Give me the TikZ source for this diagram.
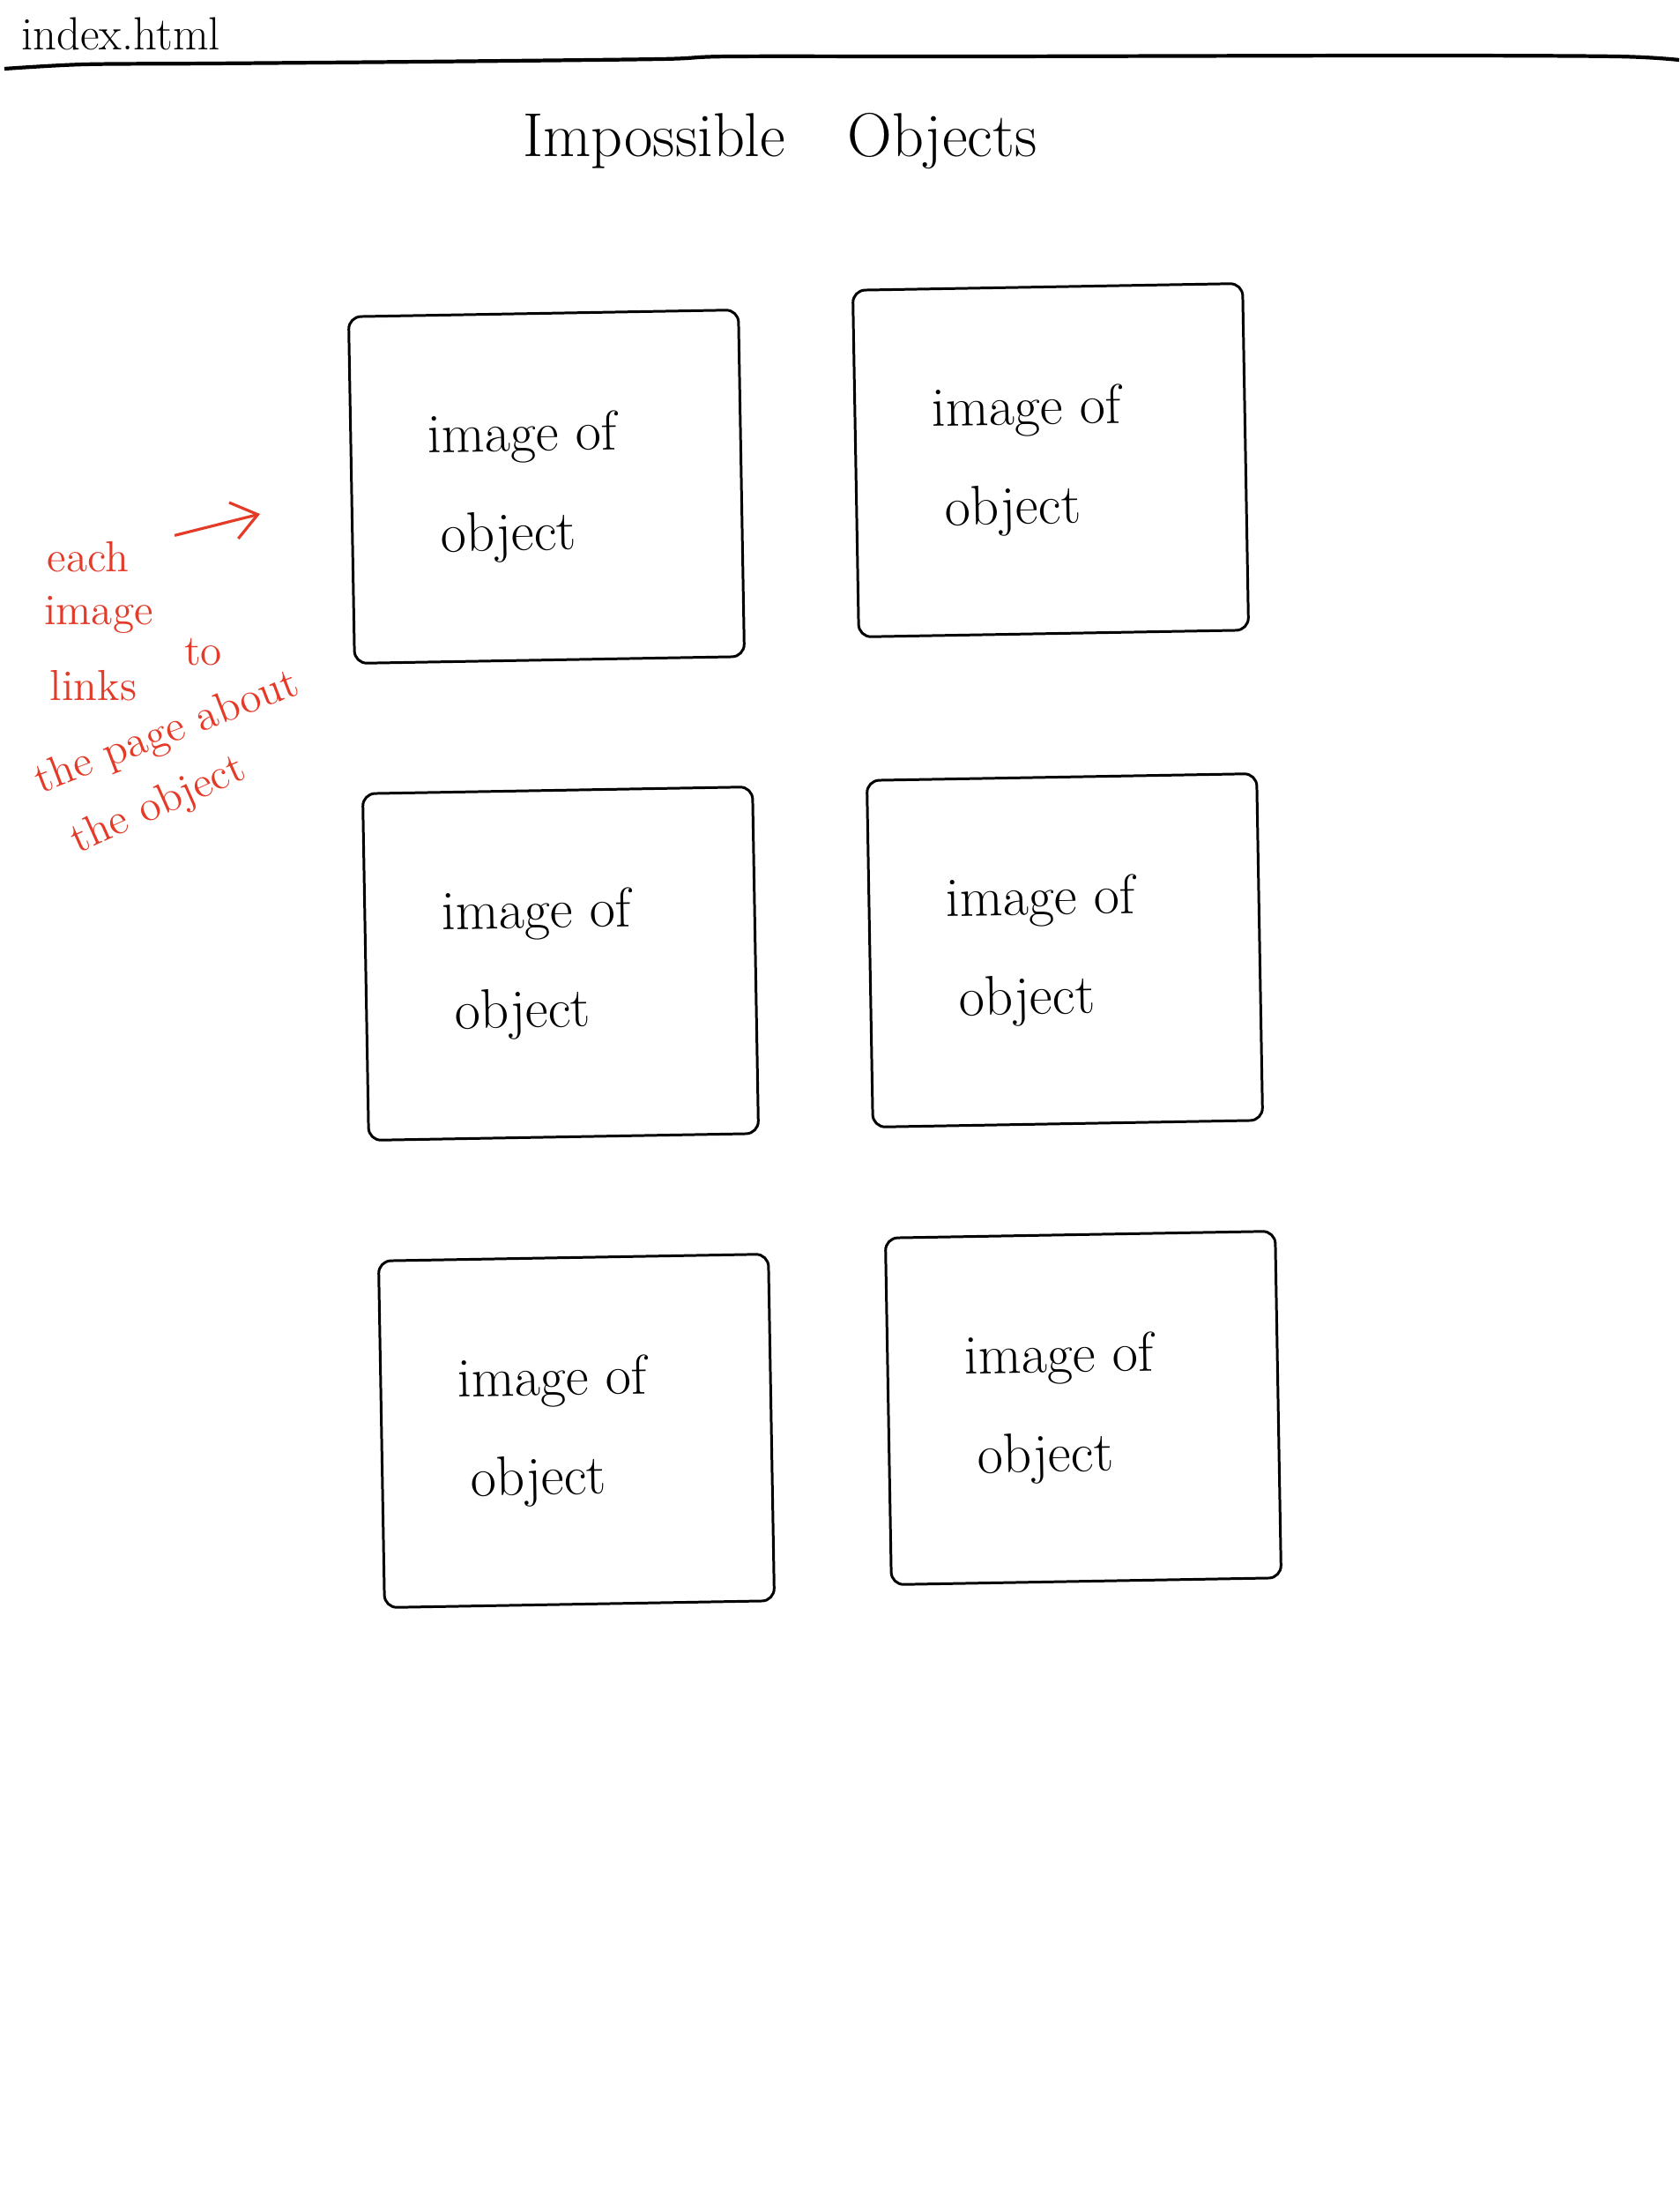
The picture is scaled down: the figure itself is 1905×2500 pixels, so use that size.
\documentclass[tikz,border=0pt]{standalone}
\usepackage{tikz}
\usetikzlibrary{positioning,arrows.meta}

\definecolor{annot}{RGB}{228,58,40}

\newcommand{\imgof}{image of\hspace*{15pt}\\[2pt]object\hspace*{25pt}}

\tikzset{
  imgbox/.style={draw, line width=0.85pt, minimum width=4.42cm, minimum height=3.93cm,
    rounded corners=4pt, rotate=1, align=center, font=\fontsize{18}{30}\selectfont, inner sep=0pt},
  note/.style={text=annot, font=\fontsize{14}{17}\selectfont, inner sep=1pt},
  notearrow/.style={draw=annot, line width=0.9pt, -{Straight Barb[length=8pt, width=12pt]}, shorten <=14pt},
}

\begin{document}
\begin{tikzpicture}[x=0.01cm, y=-0.01cm]
        \useasboundingbox (0,0) rectangle (1905,2500);

        \node[anchor=west, font=\fontsize{15}{18}\selectfont] (page) at (12,38) {index.html};
        \draw[line width=1.2pt] plot[smooth] coordinates {(5,78) (96,73) (239,72) (478,70) (749,67) (829,64) (1116,64) (1594,63) (1833,64) (1905,68)}; %
        \node[font=\fontsize{20}{24}\selectfont] (title) at (885,160) {Impossible\quad Objects};

        \node[imgbox] (obj1) at (620,552)  {\imgof};
        \node[imgbox] (obj2) at (1192,522) {\imgof};
        \node[imgbox] (obj3) at (636,1093) {\imgof};
        \node[imgbox] (obj4) at (1208,1078) {\imgof};
        \node[imgbox] (obj5) at (654,1623) {\imgof};
        \node[imgbox] (obj6) at (1229,1597) {\imgof};

        \node[note] (each) at (100,632) {each};
        \node[note] (image) at (112,697) {image};
        \node[note] (links) at (106,778) {links};
        \node[note, right=13pt of links, yshift=11pt] (to) {to};
        \node[note, rotate=21] (pageabout) at (190,832) {the page about};
        \node[note, rotate=24] (theobject) at (180,914) {the object};
        \coordinate (tip) at (295,583);

        \draw[notearrow] (each) -- (tip) ; %

\end{tikzpicture}
\end{document}
